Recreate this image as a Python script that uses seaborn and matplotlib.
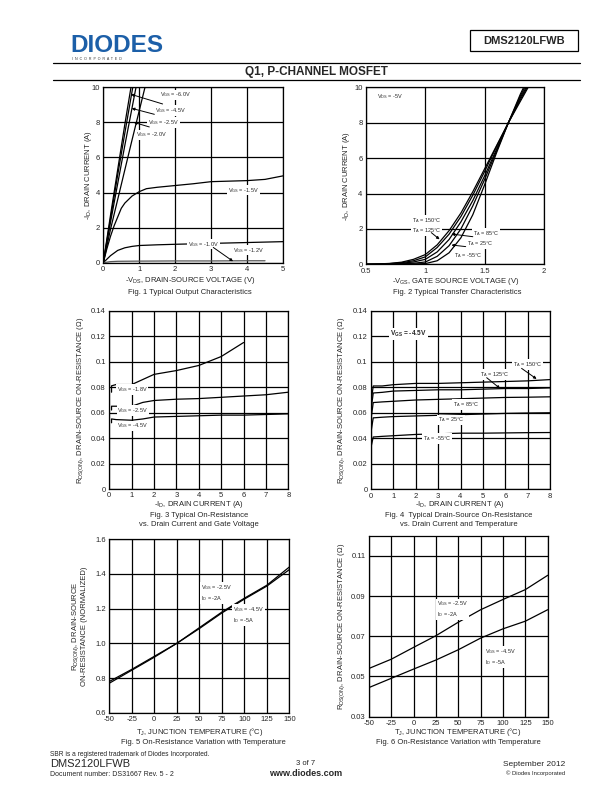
import matplotlib
matplotlib.use("Agg")
import matplotlib.pyplot as plt
import matplotlib.patches as patches
from matplotlib.ticker import FuncFormatter
import seaborn as sns

W, H = 612, 792

# Fig. 1 output characteristics: -VDS (V) vs -ID (A)
vds_60 = [0, 0.2, 0.4, 0.6, 0.77]
id_60 = [0, 2.7, 5.3, 7.9, 10]
vds_45 = [0, 0.2, 0.4, 0.6, 0.82]
id_45 = [0, 2.5, 5.0, 7.4, 10]
vds_25 = [0, 0.2, 0.4, 0.6, 0.91]
id_25 = [0, 2.3, 4.5, 6.7, 10]
vds_20 = [0, 0.2, 0.4, 0.6, 0.8, 1.16]
id_20 = [0, 1.9, 3.6, 5.3, 7.0, 10]
vds_15 = [0, 0.1, 0.2, 0.3, 0.4, 0.5, 0.6, 0.8, 1.0, 1.2, 1.5, 2.0, 2.5, 3.0, 3.5, 4.0, 4.5, 5.0]
id_15 = [0, 0.8, 1.5, 2.1, 2.6, 3.1, 3.4, 3.8, 4.05, 4.22, 4.3, 4.4, 4.5, 4.62, 4.65, 4.68, 4.75, 4.95]
vds_12 = [0, 0.1, 0.2, 0.4, 0.6, 0.8, 1.0, 1.5, 2.0, 3.0, 4.0, 5.0]
id_12 = [0, 0.2, 0.4, 0.7, 0.85, 0.93, 0.98, 1.02, 1.05, 1.1, 1.15, 1.2]
vds_10 = [0, 0.2, 0.4, 1.0, 2.0, 3.0, 4.0, 4.5]
id_10 = [0, 0.06, 0.08, 0.09, 0.1, 0.1, 0.11, 0.11]

# Fig. 2 transfer characteristics: -VGS (V) vs -ID (A)
vgs = [0.5, 0.6, 0.7, 0.8, 0.9, 1.0, 1.1, 1.2, 1.3, 1.4, 1.5, 1.6, 1.7, 1.8, 1.9]
id_t150 = [0.0, 0.02, 0.05, 0.12, 0.28, 0.55, 1.1, 1.9, 2.9, 4.1, 5.4, 6.7, 8.0, 9.2, 10.4]
id_t125 = [0.0, 0.01, 0.04, 0.09, 0.2, 0.42, 0.95, 1.7, 2.7, 3.9, 5.25, 6.65, 8.0, 9.3, 10.5]
id_t85 = [0.0, 0.01, 0.02, 0.06, 0.13, 0.28, 0.7, 1.4, 2.4, 3.6, 5.0, 6.5, 8.0, 9.4, 10.6]
id_t25 = [0.0, 0.0, 0.01, 0.03, 0.06, 0.13, 0.45, 1.05, 2.0, 3.3, 4.8, 6.4, 8.0, 9.5, 10.8]
id_tm55 = [0.0, 0.0, 0.0, 0.01, 0.02, 0.04, 0.2, 0.65, 1.5, 2.8, 4.5, 6.3, 8.0, 9.6, 11.0]

# Fig. 3 RDS(on) vs -ID for three gate voltages
id3_18 = [0.1, 0.1, 0.3, 1.0, 1.5, 2.0, 3.0, 4.0, 5.0, 6.0]
r3_18 = [0.076, 0.081, 0.082, 0.082, 0.086, 0.090, 0.093, 0.097, 0.104, 0.115]
id3_25 = [0.1, 0.1, 0.3, 1.0, 1.5, 2.0, 3.0, 4.0, 5.0, 6.0, 7.0, 8.0]
r3_25 = [0.062, 0.065, 0.065, 0.065, 0.068, 0.0695, 0.0705, 0.071, 0.072, 0.073, 0.074, 0.076]
id3_45 = [0.1, 0.1, 0.3, 1.0, 1.5, 2.0, 3.0, 4.0, 5.0, 6.0, 7.0, 8.0]
r3_45 = [0.052, 0.055, 0.0545, 0.054, 0.055, 0.0565, 0.057, 0.0575, 0.058, 0.058, 0.0585, 0.059]

# Fig. 4 RDS(on) vs -ID for temperatures at VGS = -4.5V
id4 = [0.0, 0.1, 0.5, 1.0, 2.0, 3.0, 4.0, 5.0, 6.0, 7.0, 8.0]
r4_150 = [0.068, 0.081, 0.081, 0.082, 0.083, 0.083, 0.0835, 0.084, 0.0845, 0.085, 0.086]
r4_125 = [0.062, 0.0755, 0.076, 0.077, 0.0775, 0.078, 0.078, 0.0785, 0.079, 0.079, 0.0795]
r4_85 = [0.055, 0.068, 0.0685, 0.069, 0.070, 0.0705, 0.071, 0.0715, 0.072, 0.0722, 0.0725]
r4_25 = [0.045, 0.056, 0.0565, 0.057, 0.0575, 0.058, 0.0585, 0.059, 0.0595, 0.0598, 0.060]
r4_m55 = [0.033, 0.041, 0.0415, 0.042, 0.043, 0.0435, 0.044, 0.044, 0.0442, 0.0444, 0.0445]

# Fig. 5 normalized RDS(on) vs TJ
tj = [-50, -25, 0, 25, 50, 75, 100, 125, 150]
rn_25 = [0.78, 0.85, 0.925, 1.0, 1.09, 1.18, 1.26, 1.335, 1.44]
rn_45 = [0.77, 0.845, 0.92, 1.0, 1.085, 1.175, 1.255, 1.33, 1.425]

# Fig. 6 RDS(on) vs TJ
r6_25 = [0.054, 0.0586, 0.0645, 0.0703, 0.077, 0.0832, 0.0883, 0.0932, 0.1003]
r6_45 = [0.0445, 0.0491, 0.0537, 0.0582, 0.0633, 0.0691, 0.0737, 0.0775, 0.0832]


def rect(x0, x1, y0, y1):
    return [x0 / W, 1 - y1 / H, (x1 - x0) / W, (y1 - y0) / H]


def ftext(fig, x, y, s, **kw):
    kw.setdefault("ha", "center")
    kw.setdefault("va", "center")
    fig.text(x / W, 1 - y / H, s, **kw)


def style_axes(ax, xlim, ylim, xticks, yticks, fmt_x="%g", fmt_y="%g"):
    ax.set_xlim(*xlim)
    ax.set_ylim(*ylim)
    ax.set_xticks(xticks)
    ax.set_yticks(yticks)
    ax.xaxis.set_major_formatter(FuncFormatter(lambda v, p: fmt_x % v))
    ax.yaxis.set_major_formatter(FuncFormatter(lambda v, p: fmt_y % v))
    ax.grid(True, color="black", linewidth=0.9)
    ax.tick_params(length=0, pad=2.5, labelsize=5.5)
    for s in ax.spines.values():
        s.set_color("black")
        s.set_linewidth(0.9)
    ax.set_xlabel("")
    ax.set_ylabel("")


def curve(ax, x, y, color="black", lw=0.9):
    sns.lineplot(x=x, y=y, ax=ax, color=color, linewidth=lw, sort=False, estimator=None)


def label(ax, x, y, s, size=4.0, **kw):
    kw.setdefault("ha", "left")
    kw.setdefault("va", "center")
    ax.text(x, y, s, fontsize=size, zorder=5, linespacing=1.35,
            bbox=dict(facecolor="white", edgecolor="none", pad=0.6), **kw)


def arrow(ax, tail, tip):
    ax.annotate("", xy=tip, xytext=tail, zorder=6,
                arrowprops=dict(arrowstyle="-|>", color="black", lw=0.7,
                                mutation_scale=4, shrinkA=0, shrinkB=0))


sns.set_style("white")
plt.rcParams["font.family"] = ["Liberation Sans", "DejaVu Sans"]
plt.rcParams["mathtext.default"] = "regular"
plt.rcParams["axes.unicode_minus"] = False

fig = plt.figure(figsize=(6.12, 7.92), dpi=100)

# header
ftext(fig, 70, 45.5, "DIODES", ha="left", fontsize=17.5, fontweight="bold",
      color="#1c5fa8")
ftext(fig, 72, 59.5, "I  N  C  O  R  P  O  R  A  T  E  D", ha="left", fontsize=2.6,
      color="#333333")
fig.patches.append(patches.Rectangle((470 / W, 1 - 51 / H), 108 / W, 21 / H,
                                     transform=fig.transFigure, fill=False,
                                     edgecolor="black", linewidth=0.9))
ftext(fig, 524, 40.5, "DMS2120LFWB", fontsize=8, fontweight="bold")
fig.add_artist(plt.Line2D([53 / W, 580 / W], [1 - 63 / H] * 2, color="black", lw=0.9))
fig.add_artist(plt.Line2D([53 / W, 580 / W], [1 - 80 / H] * 2, color="black", lw=0.9))
ftext(fig, 316, 71.5, "Q1, P-CHANNEL MOSFET", fontsize=8.5, fontweight="bold")

# Fig. 1
ax1 = fig.add_axes(rect(103.3, 283, 87.3, 262.7))
curve(ax1, vds_60, id_60)
curve(ax1, vds_45, id_45)
curve(ax1, vds_25, id_25)
curve(ax1, vds_20, id_20)
curve(ax1, vds_15, id_15)
curve(ax1, vds_12, id_12)
curve(ax1, vds_10, id_10, color="#555555")
style_axes(ax1, (0, 5), (0, 10), range(0, 6), range(0, 11, 2))
label(ax1, 1.57, 9.56, r"V$_{GS}$ = -6.0V")
label(ax1, 1.44, 8.67, r"V$_{GS}$ = -4.5V")
label(ax1, 1.25, 7.98, r"V$_{GS}$ = -2.5V")
label(ax1, 0.91, 7.28, r"V$_{GS}$ = -2.0V")
label(ax1, 3.47, 4.14, r"V$_{GS}$ = -1.5V")
label(ax1, 3.6, 0.72, r"V$_{GS}$ = -1.2V")
label(ax1, 2.36, 1.06, r"V$_{GS}$ = -1.0V")
arrow(ax1, (1.65, 9.05), (0.77, 9.6))
arrow(ax1, (1.42, 8.46), (0.79, 8.8))
arrow(ax1, (1.28, 7.74), (0.85, 8.0))
arrow(ax1, (3.06, 0.87), (3.61, 0.08))
ftext(fig, 88, 175, r"-I$_D$, DRAIN CURRENT (A)", rotation=90, fontsize=5.5)
ftext(fig, 190, 281, r"-V$_{DS}$, DRAIN-SOURCE VOLTAGE (V)", fontsize=5.5)
ftext(fig, 190, 292, "Fig. 1 Typical Output Characteristics", fontsize=5.5)

# Fig. 2
ax2 = fig.add_axes(rect(366, 544, 87.3, 264.3))
for yy in [id_t150, id_t125, id_t85, id_t25, id_tm55]:
    curve(ax2, vgs, yy)
style_axes(ax2, (0.5, 2), (0, 10), [0.5, 1, 1.5, 2], range(0, 11, 2))
label(ax2, 0.59, 9.47, r"V$_{DS}$ = -5V")
label(ax2, 0.89, 2.5, r"T$_A$ = 150°C")
label(ax2, 0.885, 1.9, r"T$_A$ = 125°C")
label(ax2, 1.4, 1.75, r"T$_A$ = 85°C")
label(ax2, 1.35, 1.19, r"T$_A$ = 25°C")
label(ax2, 1.24, 0.5, r"T$_A$ = -55°C")
arrow(ax2, (1.05, 1.79), (1.12, 1.41))
arrow(ax2, (1.4, 1.56), (1.22, 1.71))
arrow(ax2, (1.34, 1.0), (1.22, 1.09))
ftext(fig, 347, 176, r"-I$_D$, DRAIN CURRENT (A)", rotation=90, fontsize=5.5)
ftext(fig, 456, 281.5, r"-V$_{GS}$, GATE SOURCE VOLTAGE (V)", fontsize=5.5)
ftext(fig, 457, 292, "Fig. 2 Typical Transfer Characteristics", fontsize=5.5)

# Fig. 3
ax3 = fig.add_axes(rect(109.3, 288.3, 310.7, 489))
curve(ax3, id3_18, r3_18)
curve(ax3, id3_25, r3_25)
curve(ax3, id3_45, r3_45)
style_axes(ax3, (0, 8), (0, 0.14), range(0, 9), [0, 0.02, 0.04, 0.06, 0.08, 0.1, 0.12, 0.14])
label(ax3, 0.33, 0.0782, r"V$_{GS}$ = -1.8V")
label(ax3, 0.36, 0.0618, r"V$_{GS}$ = -2.5V")
label(ax3, 0.36, 0.0496, r"V$_{GS}$ = -4.5V")
ftext(fig, 80.5, 400, r"R$_{DS(ON)}$, DRAIN-SOURCE ON-RESISTANCE (Ω)", rotation=90, fontsize=5.5)
ftext(fig, 199, 504, r"-I$_D$, DRAIN CURRENT (A)", fontsize=5.5)
ftext(fig, 199, 515.7, "Fig. 3 Typical On-Resistance", fontsize=5.5)
ftext(fig, 199, 525, "vs. Drain Current and Gate Voltage", fontsize=5.5)

# Fig. 4
ax4 = fig.add_axes(rect(371, 550, 310.7, 489.3))
for yy in [r4_150, r4_125, r4_85, r4_25, r4_m55]:
    curve(ax4, id4, yy)
style_axes(ax4, (0, 8), (0, 0.14), range(0, 9), [0, 0.02, 0.04, 0.06, 0.08, 0.1, 0.12, 0.14])
label(ax4, 0.85, 0.1215, r"V$_{GS}$ = -4.5V", size=4.8, fontweight="bold")
label(ax4, 6.35, 0.098, r"T$_A$ = 150°C")
label(ax4, 4.87, 0.090, r"T$_A$ = 125°C")
label(ax4, 3.67, 0.0666, r"T$_A$ = 85°C")
label(ax4, 3.0, 0.0543, r"T$_A$ = 25°C")
label(ax4, 2.33, 0.040, r"T$_A$ = -55°C")
arrow(ax4, (6.73, 0.0948), (7.4, 0.0865))
arrow(ax4, (5.17, 0.0875), (5.77, 0.079))
ftext(fig, 342, 400, r"R$_{DS(ON)}$, DRAIN-SOURCE ON-RESISTANCE (Ω)", rotation=90, fontsize=5.5)
ftext(fig, 460, 504.3, r"-I$_D$, DRAIN CURRENT (A)", fontsize=5.5)
ftext(fig, 459, 515.7, "Fig. 4  Typical Drain-Source On-Resistance", fontsize=5.5)
ftext(fig, 459, 525, "vs. Drain Current and Temperature", fontsize=5.5)

# Fig. 5
ax5 = fig.add_axes(rect(109.3, 289.3, 539.3, 712.7))
curve(ax5, tj, rn_25)
curve(ax5, tj, rn_45)
style_axes(ax5, (-50, 150), (0.6, 1.6), range(-50, 151, 25),
           [0.6, 0.8, 1.0, 1.2, 1.4, 1.6], fmt_y="%.1f")
label(ax5, 52, 1.29, "V$_{GS}$ = -2.5V\nI$_D$ = -2A")
label(ax5, 87.5, 1.163, "V$_{GS}$ = -4.5V\nI$_D$ = -5A")
ftext(fig, 76, 626, r"R$_{DS(ON)}$, DRAIN-SOURCE", rotation=90, fontsize=5.5)
ftext(fig, 84, 626, "ON-RESISTANCE (NORMALIZED)", rotation=90, fontsize=5.5)
ftext(fig, 200, 732, r"T$_J$, JUNCTION TEMPERATURE (°C)", fontsize=5.5)
ftext(fig, 203, 742.3, "Fig. 5 On-Resistance Variation with Temperature", fontsize=5.5)

# Fig. 6
ax6 = fig.add_axes(rect(369, 547.7, 535.7, 716.7))
curve(ax6, tj, r6_25)
curve(ax6, tj, r6_45)
style_axes(ax6, (-50, 150), (0.03, 0.12), range(-50, 151, 25),
           [0.03, 0.05, 0.07, 0.09, 0.11], fmt_y="%.2f")
label(ax6, 26, 0.0833, "V$_{GS}$ = -2.5V\nI$_D$ = -2A")
label(ax6, 80, 0.0598, "V$_{GS}$ = -4.5V\nI$_D$ = -5A")
ftext(fig, 342, 626, r"R$_{DS(ON)}$, DRAIN-SOURCE ON-RESISTANCE (Ω)", rotation=90, fontsize=5.5)
ftext(fig, 458, 731.7, r"T$_J$, JUNCTION TEMPERATURE (°C)", fontsize=5.5)
ftext(fig, 458, 742.7, "Fig. 6 On-Resistance Variation with Temperature", fontsize=5.5)

# footer
ftext(fig, 50, 754.5, "SBR is a registered trademark of Diodes Incorporated.", ha="left", fontsize=4.8)
ftext(fig, 50, 764, "DMS2120LFWB", ha="left", fontsize=8)
ftext(fig, 50, 774, "Document number: DS31667 Rev. 5 - 2", ha="left", fontsize=5)
ftext(fig, 306, 763.5, "3 of 7", fontsize=5.5)
ftext(fig, 306, 773.5, "www.diodes.com", fontsize=6.5, fontweight="bold")
ftext(fig, 565, 764, "September 2012", ha="right", fontsize=6)
ftext(fig, 565, 773.5, "© Diodes Incorporated", ha="right", fontsize=4.2)

fig.savefig("out.png", dpi=100)
plt.close(fig)
